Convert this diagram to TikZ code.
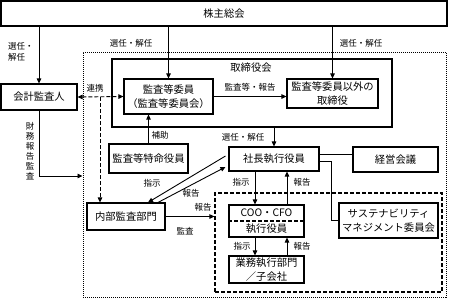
\documentclass[tikz,border=0pt]{standalone}
\usepackage{fontspec}
\setmainfont{Noto Sans CJK JP}
\usetikzlibrary{arrows.meta}
\tikzset{
  box/.style={draw, line width=1.1pt, inner sep=0pt, align=center, font=\fontsize{10.3}{13.5}\selectfont},
  lab/.style={inner sep=0pt, align=center, font=\fontsize{8.5}{10.5}\selectfont},
  arr/.style={-{Triangle[length=5pt,width=4.5pt]}, line width=0.9pt},
  plain/.style={line width=0.9pt},
  dsh/.style={dash pattern=on 4pt off 2pt},
  dot/.style={dash pattern=on 1pt off 1pt}
}
\begin{document}
\begin{tikzpicture}[x=1pt,y=-1pt]
\useasboundingbox (0,0) rectangle (449,301);
% containers
\node[draw, dot, line width=1pt, minimum width=363, minimum height=245, inner sep=0pt] (outer) at (264.5,174.5) {};
\node[draw, line width=1.1pt, minimum width=280, minimum height=68, inner sep=0pt] (bod) at (252,93) {};
\node[lab, font=\fontsize{10.3}{12}\selectfont] (bodlab) at (251,68) {取締役会};
\node[draw, dsh, line width=1.1pt, minimum width=227, minimum height=99, inner sep=0pt] (inner) at (328.5,242.5) {};
% boxes
\node[box, minimum width=446, minimum height=25] (kabu) at (224,13.5) {株主総会};
\node[box, minimum width=76, minimum height=26] (kaikei) at (39,97) {会計監査人};
\node[box, minimum width=89, minimum height=35] (kansa) at (168.5,96.5) {監査等委員\\（監査等委員会）};
\node[box, minimum width=91, minimum height=29] (igai) at (332.5,93.5) {監査等委員以外の\\取締役};
\node[box, minimum width=79, minimum height=29] (tokumei) at (148.5,158.5) {監査等特命役員};
\node[box, minimum width=78, minimum height=27] (naibu) at (126,216.5) {内部監査部門};
\node[box, minimum width=90, minimum height=24] (shacho) at (274,159) {社長執行役員};
\node[box, minimum width=85, minimum height=25] (keiei) at (395.5,159.5) {経営会議};
\node[box, minimum width=99, minimum height=35] (sustain) at (388.5,220.5) {サステナビリティ\\マネジメント委員会};
\node[box, minimum width=75, minimum height=32] (coo) at (266.5,221) {COO・CFO\\[2.5pt]執行役員};
\draw[dsh, line width=1.1pt] (coo.west) -- (coo.east);
\node[box, minimum width=75, minimum height=27] (gyomu) at (266.5,269.5) {業務執行部門\\／子会社};
% helper coordinates
\coordinate (rk) at (100,97);
\coordinate (fy) at (0,176);
\coordinate (xa) at (255,0);
\coordinate (xb) at (287,0);
% connectors from shareholders
\draw[arr] (kaikei.north |- kabu.south) -- (kaikei.north);
\draw[arr] (kansa.north |- kabu.south) -- (kansa.north);
\draw[arr] (igai.north |- kabu.south) -- (igai.north);
\node[lab, align=left] (l1) at (21,52) {選任・\\解任};
\node[lab] (l2) at (131,43) {選任・解任};
\node[lab] (l3) at (361,43) {選任・解任};
% 連携
\draw[{Triangle[length=5pt,width=4.5pt]}-{Triangle[length=5pt,width=4.5pt]}, line width=0.9pt, dsh] (kaikei.east) -- (kansa.west);
\draw[arr, dsh] (rk) -- (rk |- naibu.north);
\node[lab] (l4) at (95,88) {連携};
% 財務報告監査
\draw[arr] (kaikei.south) |- (outer.west |- fy);
\node[lab, font=\fontsize{8.5}{10}\selectfont] (l5) at (30,151) {財\\務\\報\\告\\監\\査};
% board internal
\draw[arr] (kansa.east) -- (kansa.east -| igai.west);
\node[lab] (l6) at (250,87) {監査等・報告};
\draw[arr] (tokumei.north) -- (tokumei.north |- kansa.south);
\node[lab] (l7) at (160,135) {補助};
\draw[arr] (bod.south -| shacho.north) -- (shacho.north);
\node[lab] (l8) at (243,137) {選任・解任};
% president links
\draw[plain] ([yshift=5pt]shacho.east) -- ([yshift=5pt]shacho.east -| keiei.west);
\draw[plain] ([yshift=-2pt]shacho.east) -- ++(12,0) |- (sustain.west);
\draw[arr] (shacho.south -| xa) -- (coo.north -| xa);
\draw[arr] (coo.north -| xb) -- (shacho.south -| xb);
\node[lab] (l9) at (241,182) {指示};
\node[lab] (l10) at (302,182) {報告};
\draw[arr] (coo.south -| xa) -- (gyomu.north -| xa);
\draw[arr] (gyomu.north -| xb) -- (coo.south -| xb);
\node[lab] (l11) at (242,246) {指示};
\node[lab] (l12) at (302,246) {報告};
% internal audit
\draw[arr] ([xshift=-3pt,yshift=3pt]shacho.west) -- ([xshift=22pt]naibu.north);
\draw[arr] ([xshift=32pt]naibu.north) -- ([xshift=-3pt,yshift=-8pt]shacho.west);
\node[lab] (l13) at (152,183) {指示};
\node[lab] (l14) at (191,193) {報告};
\node[lab] (l15) at (203,207) {報告};
\draw[arr] (naibu.east) -- (naibu.east -| inner.west);
\node[lab] (l16) at (185,231) {監査};
\end{tikzpicture}
\end{document}
